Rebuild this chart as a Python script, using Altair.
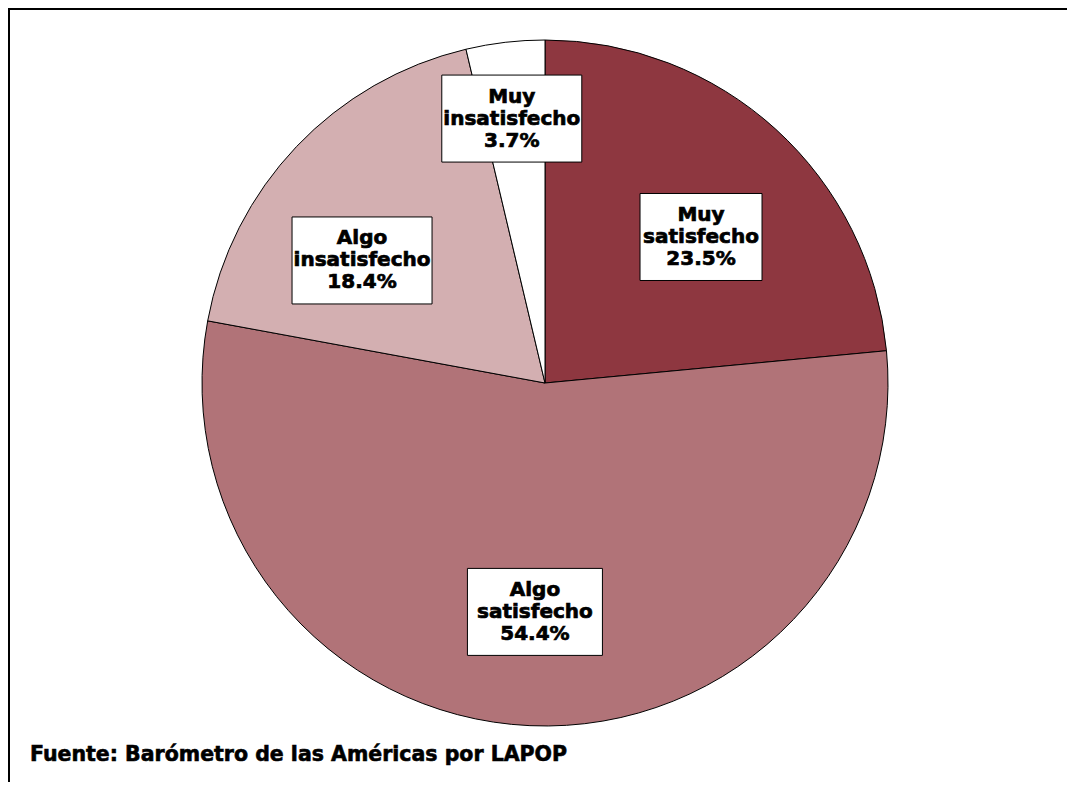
import math
import altair as alt
import pandas as pd

# ---- data ----
categories = ["Muy satisfecho", "Algo satisfecho", "Algo insatisfecho", "Muy insatisfecho"]
label_line1 = ["Muy", "Algo", "Algo", "Muy"]
label_line2 = ["satisfecho", "satisfecho", "insatisfecho", "insatisfecho"]
values = [23.5, 54.4, 18.4, 3.7]
colors = ["#8E3740", "#B17378", "#D3AFB1", "#FFFFFF"]
source_note = "Fuente: Barómetro de las Américas por LAPOP"

# ---- layout (pixels of the plot area) ----
W, H = 1059, 774
CX, CY, R = 537, 375, 343
label_radius = [0.623, 0.668, 0.642, 0.777]   # fraction of R
label_angle_shift = [4.6, 0.0, -9.75, -0.5]    # degrees
box_w = [122, 135, 140, 140]
box_h = 87
FONT = "DejaVu Sans"

total = sum(values)
rows = []
cum = 0.0
for i, (c, v) in enumerate(zip(categories, values)):
    mid = (cum + v / 2) / total * 360 + label_angle_shift[i]
    cum += v
    a = math.radians(mid)
    r = label_radius[i] * R
    lx = CX + r * math.sin(a)
    ly = CY - r * math.cos(a)
    rows.append({
        "category": c,
        "value": v,
        "order": i,
        "label": f"{label_line1[i]}\n{label_line2[i]}\n{v:.1f}%",
        "lx": lx, "ly": ly,
        "x0": lx - box_w[i] / 2, "x1": lx + box_w[i] / 2,
        "y0": ly - box_h / 2, "y1": ly + box_h / 2,
    })
df = pd.DataFrame(rows)

xs = alt.Scale(domain=[0, W], range=[0, W])
ys = alt.Scale(domain=[0, H], range=[0, H])

pie = alt.Chart(df).mark_arc(outerRadius=R, stroke="black", strokeWidth=1).encode(
    theta=alt.Theta("value:Q", stack=True),
    order=alt.Order("order:Q"),
    color=alt.Color("category:N", scale=alt.Scale(domain=categories, range=colors), legend=None),
    x=alt.value(CX),
    y=alt.value(CY),
)

boxes = alt.Chart(df).mark_rect(fill="white", stroke="black", strokeWidth=1).encode(
    x=alt.X("x0:Q", scale=xs, axis=None),
    x2="x1:Q",
    y=alt.Y("y0:Q", scale=ys, axis=None),
    y2="y1:Q",
)

labels = alt.Chart(df).mark_text(
    font=FONT, fontSize=20, fontWeight="bold", color="black",
    stroke="black", strokeWidth=0.7,
    lineBreak="\n", lineHeight=22, align="center", baseline="middle", dy=-22,
).encode(
    x=alt.X("lx:Q", scale=xs, axis=None),
    y=alt.Y("ly:Q", scale=ys, axis=None),
    text="label:N",
)

note = alt.Chart(pd.DataFrame({"t": [source_note]})).mark_text(
    font=FONT, fontSize=20.5, fontWeight="bold", color="black",
    stroke="black", strokeWidth=0.6,
    align="left", baseline="alphabetic",
).encode(x=alt.value(22), y=alt.value(753), text="t:N")

top_border = alt.Chart(pd.DataFrame({"a": [0]})).mark_rule(color="black", strokeWidth=2).encode(
    x=alt.value(0), x2=alt.value(W), y=alt.value(1)
)
left_border = alt.Chart(pd.DataFrame({"a": [0]})).mark_rule(color="black", strokeWidth=2).encode(
    x=alt.value(1), y=alt.value(0), y2=alt.value(H)
)

chart = alt.layer(pie, boxes, labels, note, top_border, left_border).properties(
    width=W, height=H, padding=0, autosize=alt.AutoSizeParams(type="none"),
    background="white",
).configure_view(stroke=None)

chart.save("out.html", embed_options={"renderer": "svg", "actions": False})
